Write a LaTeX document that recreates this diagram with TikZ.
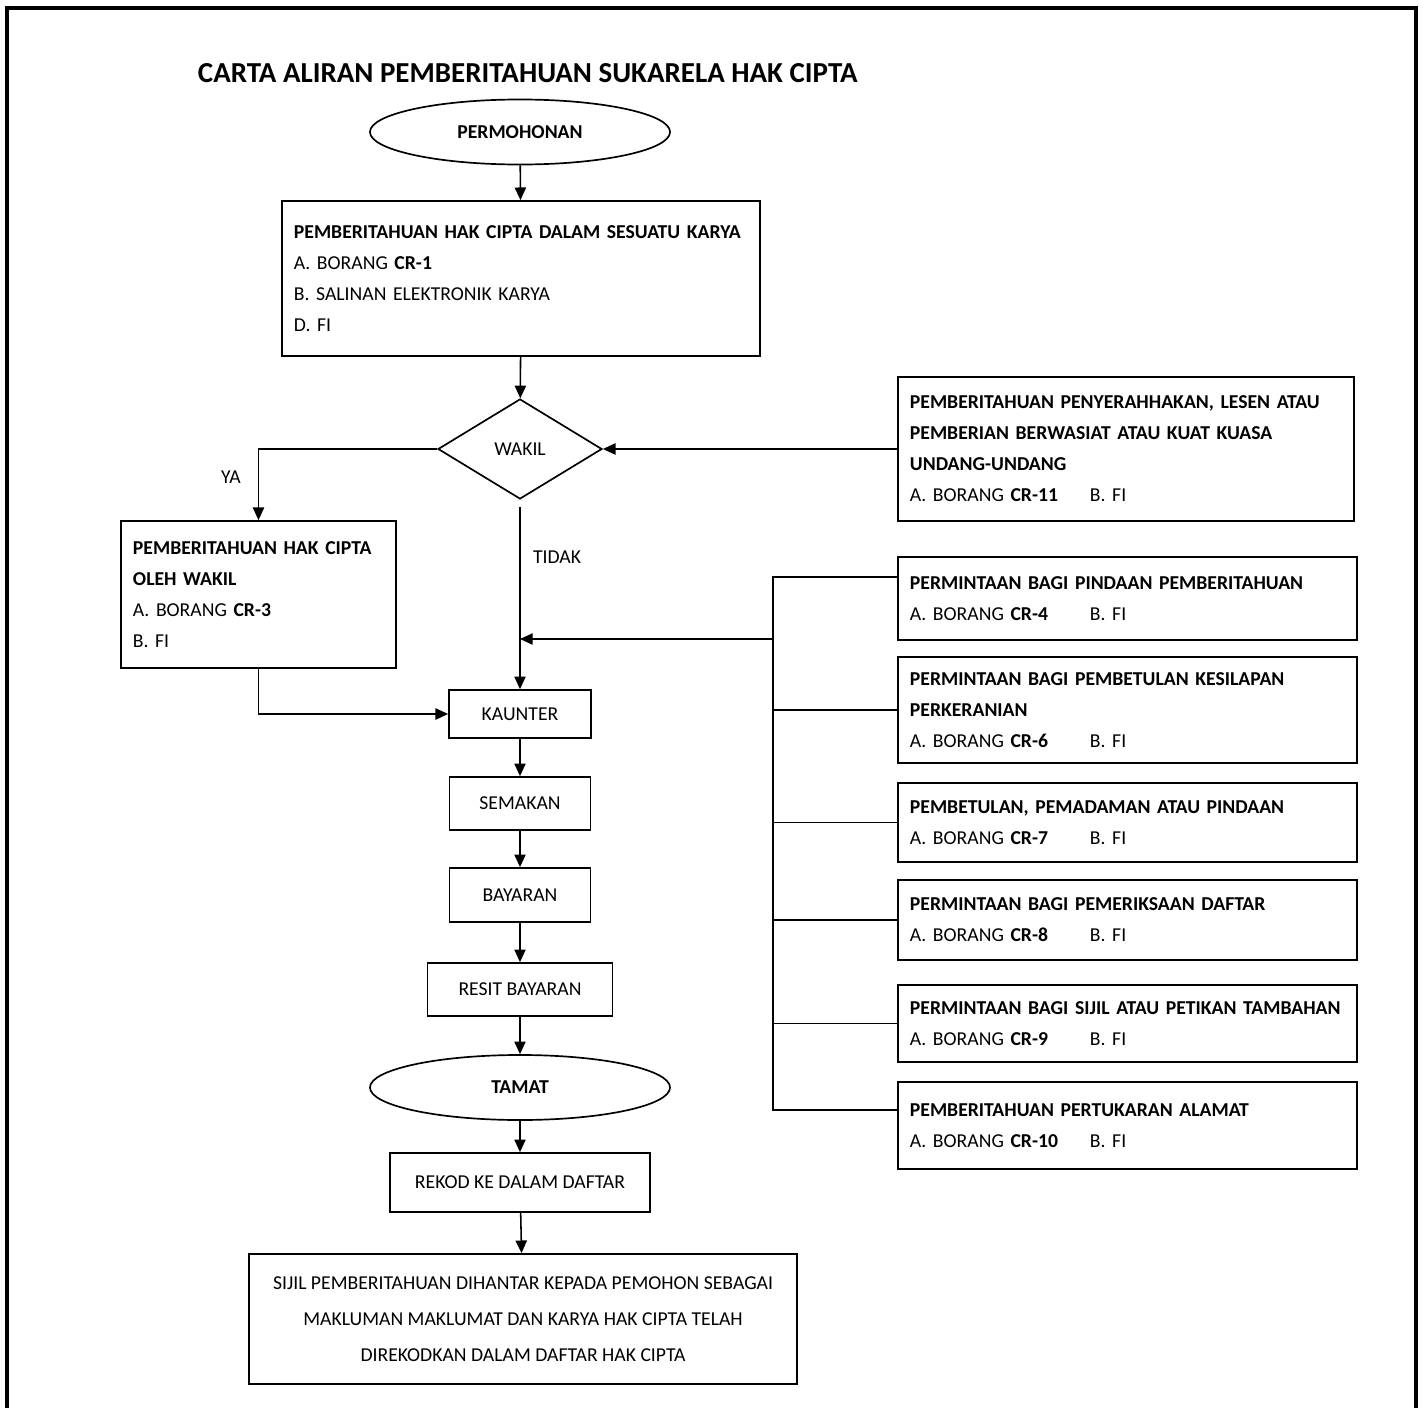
\documentclass[tikz,border=0pt]{standalone}
\usepackage{fontspec}
\setmainfont{Carlito}
\usetikzlibrary{shapes.geometric,arrows.meta}

\tikzset{
  infobox/.style={draw, line width=1.2pt, align=left, inner xsep=0.3cm, inner ysep=0pt,
    font=\fontsize{14}{22}\selectfont},
  stepbox/.style={draw, line width=1.2pt, align=center, inner sep=0pt,
    font=\fontsize{14}{17}\selectfont},
  terminal/.style={draw, ellipse, line width=1.2pt, inner sep=0pt, minimum width=7.5cm,
    minimum height=1.625cm, font=\fontsize{14}{17}\selectfont\bfseries},
  decision/.style={draw, diamond, line width=1.2pt, inner sep=0pt, minimum width=4.1cm,
    minimum height=2.5cm, font=\fontsize{14}{17}\selectfont},
  arr/.style={-{Triangle[width=8pt,length=9pt]}, line width=1.1pt},
  conn/.style={line width=1.1pt},
  lbl/.style={font=\fontsize{14}{17}\selectfont}
}
\newcommand{\borang}[1]{\makebox[4.5cm][l]{A. BORANG \textbf{#1}}B. FI}

\begin{document}
\begin{tikzpicture}[x=0.025cm, y=-0.025cm]
\useasboundingbox (0,0) rectangle (1423,1408);
\draw[line width=2.2pt] (7,1430) -- (7,8) -- (1416,8) -- (1416,1430);

\node[anchor=west, font=\fontsize{20.6}{24}\selectfont\bfseries] (title) at (193,73)
  {CARTA ALIRAN PEMBERITAHUAN SUKARELA HAK CIPTA};

\node[terminal] (mohon) at (520,132) {PERMOHONAN};
\node[infobox, text width=11.35cm, minimum height=3.875cm] (notis) at (521,278.5)
  {\textbf{PEMBERITAHUAN HAK CIPTA DALAM SESUATU KARYA}\\
   A. BORANG \textbf{CR-1}\\
   B. SALINAN ELEKTRONIK KARYA\\
   D. FI};
\node[decision] (wakil) at (520,449) {WAKIL};
\node[infobox, text width=10.8cm, minimum height=3.6cm] (cr11) at (1126,449)
  {\textbf{PEMBERITAHUAN PENYERAHHAKAN, LESEN ATAU}\\
   \textbf{PEMBERIAN BERWASIAT ATAU KUAT KUASA}\\
   \textbf{UNDANG-UNDANG}\\
   \borang{CR-11}};
\node[infobox, text width=6.275cm, minimum height=3.675cm] (cr3) at (258.5,594.5)
  {\textbf{PEMBERITAHUAN HAK CIPTA}\\
   \textbf{OLEH WAKIL}\\
   A. BORANG \textbf{CR-3}\\
   B. FI};

\node[lbl] (ya) at (231,477) {YA};
\node[lbl] (tidak) at (557,557) {TIDAK};

\node[infobox, text width=10.875cm, minimum height=2.075cm] (cr4) at (1127.5,598.5)
  {\textbf{PERMINTAAN BAGI PINDAAN PEMBERITAHUAN}\\ \borang{CR-4}};
\node[infobox, text width=10.875cm, minimum height=2.65cm] (cr6) at (1127.5,710)
  {\textbf{PERMINTAAN BAGI PEMBETULAN KESILAPAN}\\ \textbf{PERKERANIAN}\\ \borang{CR-6}};
\node[infobox, text width=10.875cm, minimum height=1.975cm] (cr7) at (1127.5,822.5)
  {\textbf{PEMBETULAN, PEMADAMAN ATAU PINDAAN}\\ \borang{CR-7}};
\node[infobox, text width=10.875cm, minimum height=2cm] (cr8) at (1127.5,920)
  {\textbf{PERMINTAAN BAGI PEMERIKSAAN DAFTAR}\\ \borang{CR-8}};
\node[infobox, text width=10.875cm, minimum height=1.925cm] (cr9) at (1127.5,1023.5)
  {\textbf{PERMINTAAN BAGI SIJIL ATAU PETIKAN TAMBAHAN}\\ \borang{CR-9}};
\node[infobox, text width=10.875cm, minimum height=2.175cm] (cr10) at (1127.5,1125.5)
  {\textbf{PEMBERITAHUAN PERTUKARAN ALAMAT}\\ \borang{CR-10}};

\node[stepbox, minimum width=3.55cm, minimum height=1.2cm] (kaunter) at (520,714) {KAUNTER};
\node[stepbox, minimum width=3.525cm, minimum height=1.325cm] (semak) at (520,803.5) {SEMAKAN};
\node[stepbox, minimum width=3.525cm, minimum height=1.35cm] (bayar) at (520,895) {BAYARAN};
\node[stepbox, minimum width=4.625cm, minimum height=1.325cm] (resit) at (520,989.5) {RESIT BAYARAN};
\node[terminal] (tamat) at (520,1087.5) {TAMAT};
\node[stepbox, minimum width=6.5cm, minimum height=1.475cm] (rekod) at (520,1182.5) {REKOD KE DALAM DAFTAR};
\node[stepbox, minimum width=13.7cm, minimum height=3.25cm, font=\fontsize{14}{25.6}\selectfont] (sijil) at (523,1319)
  {SIJIL PEMBERITAHUAN DIHANTAR KEPADA PEMOHON SEBAGAI\\
   MAKLUMAN MAKLUMAT DAN KARYA HAK CIPTA TELAH\\
   DIREKODKAN DALAM DAFTAR HAK CIPTA};

\coordinate (bustop) at (773,577);
\coordinate (busbot) at (773,1110);
\coordinate (merge) at (773,639);

\draw[arr] (mohon) -- (notis);
\draw[arr] (notis) -- (wakil);
\draw[arr] (cr11) -- (wakil);
\draw[arr] (wakil.west) -| (cr3.north);
\draw[arr, shorten <=5pt] (wakil.south) -- (kaunter.north);
\draw[arr] (cr3.south) |- (kaunter.west);
\draw[conn] (bustop -| cr4.west) -- (bustop) -- (busbot) -- (busbot -| cr10.west);
\foreach \n in {cr6,cr7,cr8,cr9}
  \draw[conn] (\n.west) -- (\n.west -| bustop);
\draw[arr] (merge) -- (merge -| kaunter.north);
\draw[arr] (kaunter) -- (semak);
\draw[arr] (semak) -- (bayar);
\draw[arr] (bayar) -- (resit);
\draw[arr] (resit) -- (tamat);
\draw[arr] (tamat) -- (rekod);
\draw[arr] (rekod) -- (sijil);
\end{tikzpicture}
\end{document}
